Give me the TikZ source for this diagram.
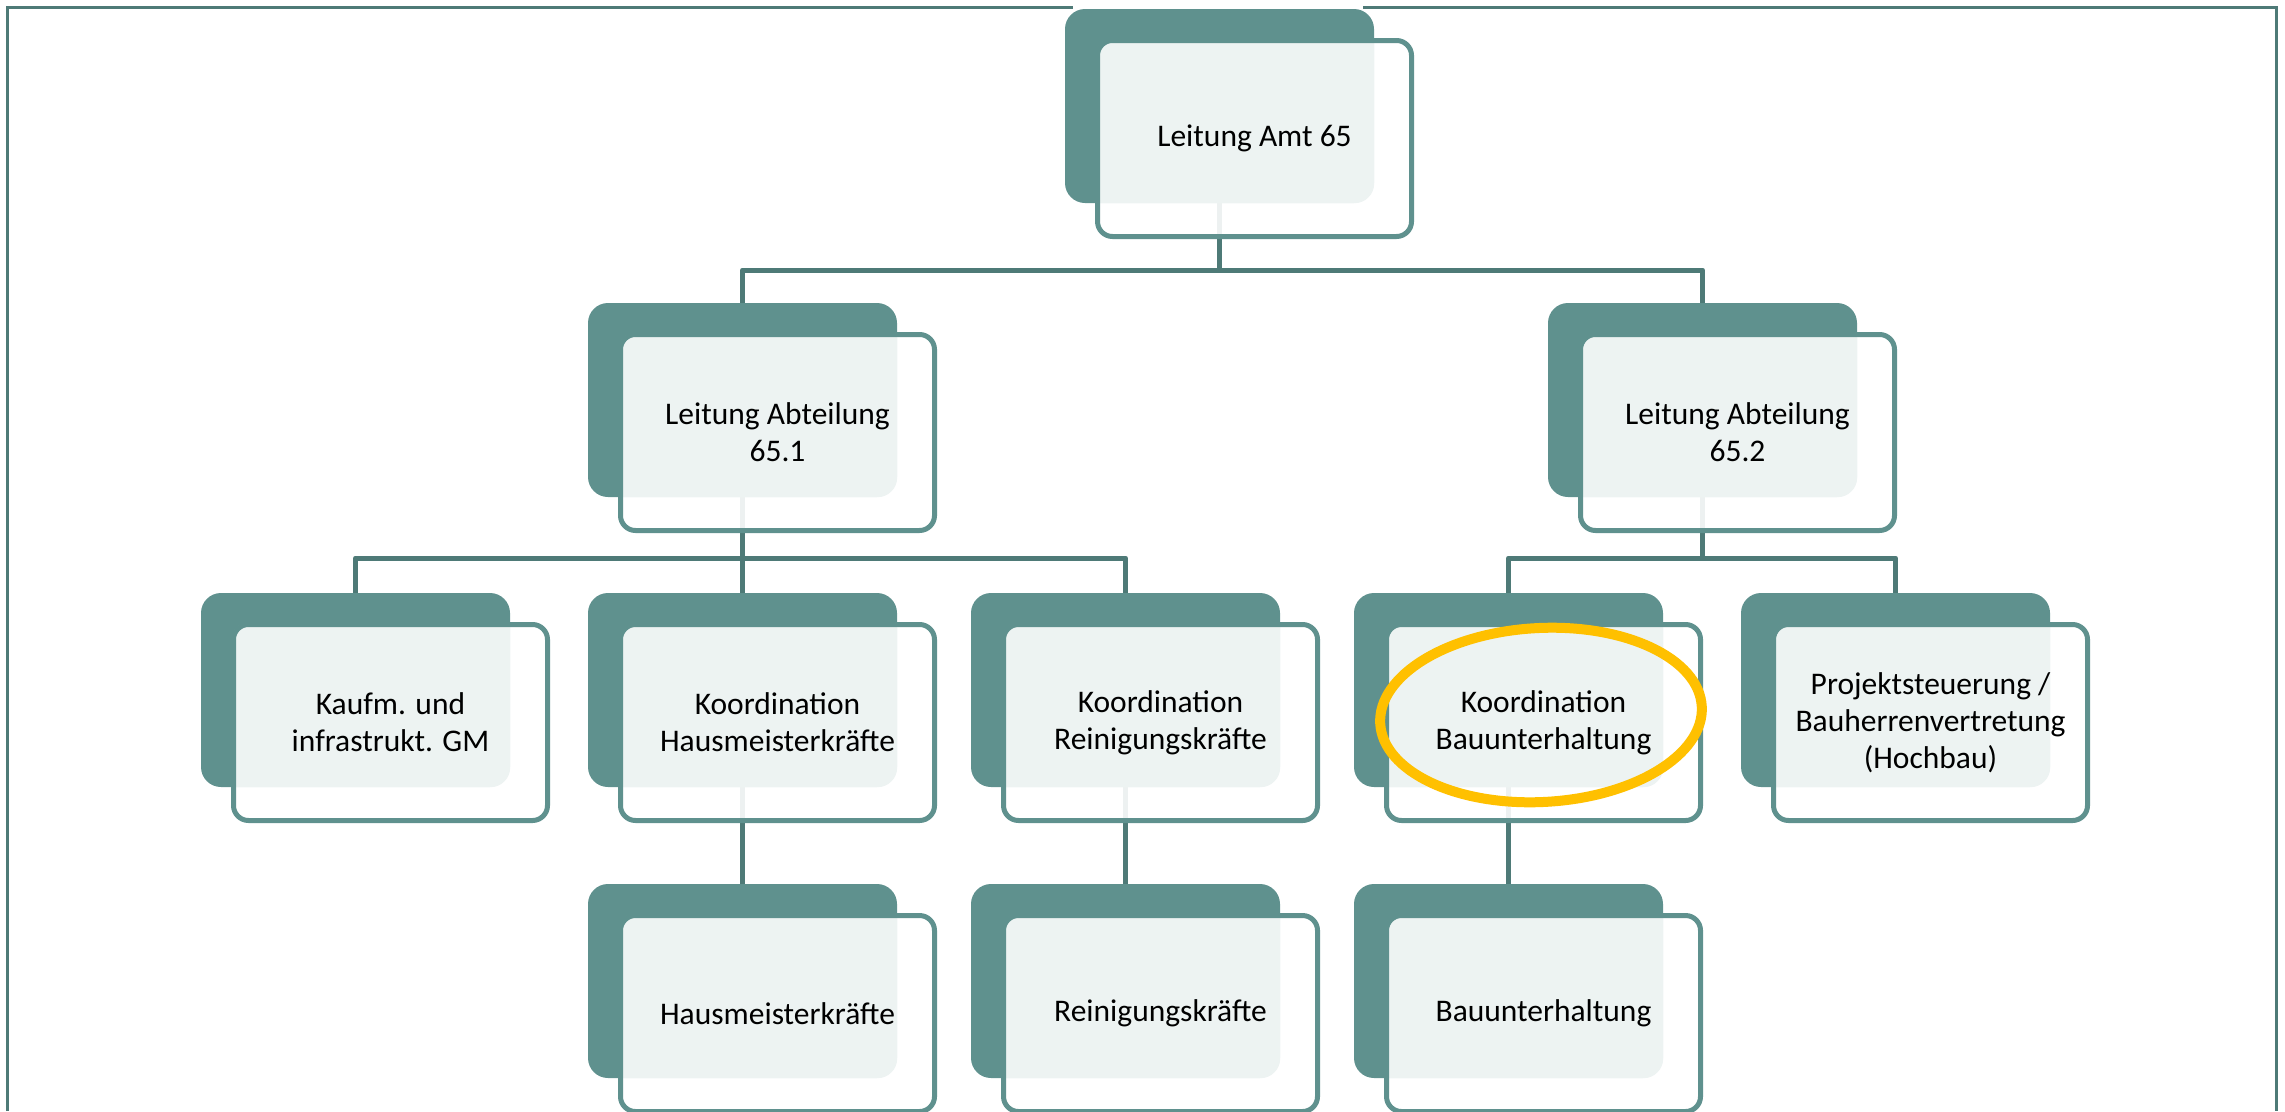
\documentclass[tikz,border=0pt]{standalone}
\usepackage{fontspec}
\setmainfont{Carlito}
\usetikzlibrary{backgrounds}
\definecolor{tealfill}{HTML}{5F918E}
\definecolor{connc}{HTML}{4E7A77}
\definecolor{lightf}{HTML}{EDF3F2}
\definecolor{hlc}{HTML}{FFC000}
\tikzset{
  darkbox/.style={rectangle, rounded corners=20, fill=tealfill, draw=none, inner sep=0, minimum width=309, minimum height=194},
  whitebox/.style={rectangle, rounded corners=16, fill=white, fill opacity=0.9, draw=none, inner sep=0, minimum width=316, minimum height=198},
  outbox/.style={rectangle, rounded corners=15, draw=tealfill, line width=5, inner sep=0, minimum width=314, minimum height=196, align=center, text=black, font=\fontsize{31.5}{37}\selectfont},
  connline/.style={draw=connc, line width=5, line join=round},
  framel/.style={draw=connc, line width=3},
  hlring/.style={draw=hlc, line width=10}
}
\newcommand\orgnode[4]{%
  \node[darkbox] (#1-d) at (#2-30+154.5, #3-29+97) {};
  \node[whitebox] (#1-w) at (#2+159.5, #3+100.5) {};
  \begin{scope}
    \clip[rounded corners=14] (#1-w.north west) rectangle (#1-w.south east);
    \fill[lightf, rounded corners=20] (#1-d.north west) rectangle (#1-d.south east);
  \end{scope}
  \node[outbox] (#1) at (#2+159.5, #3+100.5) {#4};
}
\begin{document}
\begin{tikzpicture}[x=1pt,y=-1pt]
\useasboundingbox (0,0) rectangle (2285,1111);
\draw[framel] (7,1111) -- (7,7) -- (1073,7);
\draw[framel] (1363,7) -- (2276,7) -- (2276,1111);

\orgnode{top}{1095}{38}{Leitung Amt 65}
\orgnode{L}{618}{332}{Leitung Abteilung\\65.1}
\orgnode{R}{1578}{332}{Leitung Abteilung\\65.2}
\orgnode{A}{231}{622}{Kaufm. und\\infrastrukt. GM}
\orgnode{B}{618}{622}{Koordination\\Hausmeisterkräfte}
\orgnode{C}{1001}{622}{Koordination\\Reinigungskräfte}
\orgnode{D}{1384}{622}{Koordination\\Bauunterhaltung}
\orgnode{E}{1771}{622}{Projektsteuerung /\\Bauherrenvertretung\\(Hochbau)}
\orgnode{B2}{618}{913}{Hausmeisterkräfte}
\orgnode{C2}{1001}{913}{Reinigungskräfte}
\orgnode{D2}{1384}{913}{Bauunterhaltung}

\coordinate (bar1) at (0,270);
\coordinate (bar2) at (0,558);
\begin{scope}[on background layer]
  \draw[connline] (top-d.center) -- (top-d.center |- bar1) -| (L-d.center);
  \draw[connline] (top-d.center |- bar1) -| (R-d.center);
  \draw[connline] (L-d.center) -- (L-d.center |- bar2) -| (A-d.center);
  \draw[connline] (L-d.center |- bar2) -| (C-d.center);
  \draw[connline] (L-d.center) -- (B-d.center);
  \draw[connline] (R-d.center) -- (R-d.center |- bar2) -| (D-d.center);
  \draw[connline] (R-d.center |- bar2) -| (E-d.center);
  \draw[connline] (B-d.center) -- (B2-d.center);
  \draw[connline] (C-d.center) -- (C2-d.center);
  \draw[connline] (D-d.center) -- (D2-d.center);
\end{scope}

\draw[hlring, rotate around={3:(1541,715)}] (1541,715) ellipse [x radius=161, y radius=87];
\end{tikzpicture}
\end{document}
